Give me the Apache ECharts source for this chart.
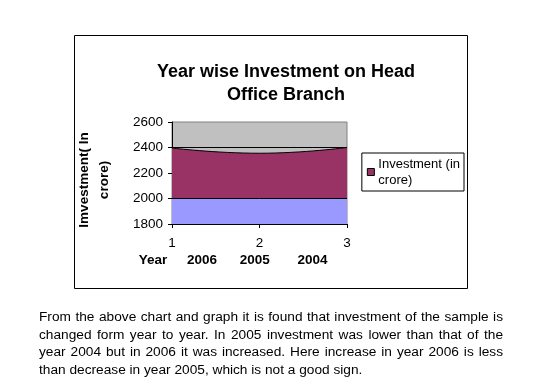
<!DOCTYPE html>
<html>
<head>
<meta charset="utf-8">
<script src="https://cdn.jsdelivr.net/npm/echarts@6/dist/echarts.min.js"></script>
<style>
html,body{margin:0;padding:0;background:#fff;}
#chart{position:absolute;left:0;top:0;width:553px;height:386px;}
#para{position:absolute;left:39px;top:308px;width:464px;font-family:"Liberation Sans",Arial,sans-serif;font-size:13.7px;line-height:17.7px;color:#000;}
#para div{white-space:nowrap;text-align:justify;text-align-last:justify;}
#para div.last{text-align-last:left;}
</style>
</head>
<body>
<div id="chart"></div>
<div id="para"><div>From the above chart and graph it is found that investment of the sample is</div><div>changed form year to year. In 2005 investment was lower than that of the</div><div>year 2004 but in 2006 it was increased. Here increase in year 2006 is less</div><div class="last">than decrease in year 2005, which is not a good sign.</div></div>
<script>
// Data
const xPositions = [1, 2, 3];
const yearLabels = ['2006', '2005', '2004'];
const investment = [2396, 2355, 2400];
const baseBand = [2000, 2000, 2000];
const refLevel = 2400;
const yTicks = [1800, 2000, 2200, 2400, 2600];

const chart = echarts.init(document.getElementById('chart'), null, {renderer: 'canvas'});
const FONT = '"Liberation Sans", Arial, sans-serif';

const yearCenters = [202, 254.7, 312.5];
const graphics = [
  {type: 'rect', shape: {x: 74.5, y: 35.5, width: 393, height: 253}, style: {fill: null, stroke: '#000', lineWidth: 1}, z: 0, silent: true},
  {type: 'text', x: 94, y: 180, rotation: Math.PI / 2,
   style: {text: 'Imvestment( In\ncrore)', font: 'bold 13.5px ' + FONT, fill: '#000', align: 'center', verticalAlign: 'middle', lineHeight: 20}},
  {type: 'text', x: 153, y: 260, style: {text: 'Year', font: 'bold 13.5px ' + FONT, fill: '#000', align: 'center', verticalAlign: 'middle'}}
];
yearLabels.forEach((t, i) => graphics.push({type: 'text', x: yearCenters[i], y: 260,
  style: {text: t, font: 'bold 13.5px ' + FONT, fill: '#000', align: 'center', verticalAlign: 'middle'}}));

chart.setOption({
  animation: false,
  backgroundColor: '#fff',
  title: {
    text: 'Year wise Investment on Head\nOffice Branch',
    left: 281, top: 55, textAlign: 'center',
    textStyle: {fontFamily: FONT, fontWeight: 'bold', fontSize: 18, lineHeight: 23.3, color: '#000'}
  },
  legend: {
    right: 553 - 464, top: 153,
    orient: 'vertical',
    data: [{name: 'Investment (in crore)', icon: 'rect'}],
    formatter: () => 'Investment (in\ncrore)',
    itemWidth: 7, itemHeight: 7,
    itemStyle: {borderColor: '#000', borderWidth: 1},
    backgroundColor: '#fff',
    borderColor: '#000', borderWidth: 1,
    padding: [3, 4, 3, 5],
    itemGap: 0,
    textStyle: {fontFamily: FONT, fontSize: 13, color: '#000', lineHeight: 16, padding: [0, 0, 0, -1]}
  },
  grid: {left: 172, top: 122, right: 553 - 347, bottom: 386 - 224, show: true, backgroundColor: '#c0c0c0', borderColor: '#808080', borderWidth: 1},
  xAxis: {
    type: 'value', min: 1, max: 3, interval: 1,
    axisLine: {show: true, lineStyle: {color: '#000', width: 1}},
    axisTick: {show: true, length: 4, lineStyle: {color: '#000'}},
    axisLabel: {fontFamily: FONT, fontSize: 13.5, color: '#000', margin: 12},
    splitLine: {show: false}
  },
  yAxis: {
    type: 'value', min: yTicks[0], max: yTicks[yTicks.length - 1], interval: yTicks[1] - yTicks[0],
    axisLine: {show: true, lineStyle: {color: '#000', width: 1}},
    axisTick: {show: true, length: 4, lineStyle: {color: '#000'}},
    axisLabel: {fontFamily: FONT, fontSize: 13.5, color: '#000', margin: 9, formatter: v => String(v)},
    splitLine: {show: false}
  },
  series: [
    {
      name: 'Investment (in crore)', type: 'line', smooth: true, symbol: 'none',
      data: xPositions.map((x, i) => [x, investment[i]]),
      lineStyle: {color: '#000', width: 1},
      itemStyle: {color: '#993366'},
      areaStyle: {color: '#993366', opacity: 1, origin: 'start'}
    },
    {
      name: 'base', type: 'line', symbol: 'none',
      data: xPositions.map((x, i) => [x, baseBand[i]]),
      lineStyle: {color: '#000', width: 1},
      itemStyle: {color: '#9999ff'},
      areaStyle: {color: '#9999ff', opacity: 1, origin: 'start'},
      markLine: {silent: true, symbol: 'none', label: {show: false},
        lineStyle: {color: '#000', width: 1, type: 'solid'}, data: [{yAxis: refLevel}]}
    }
  ],
  graphic: graphics
});
</script>
</body>
</html>
